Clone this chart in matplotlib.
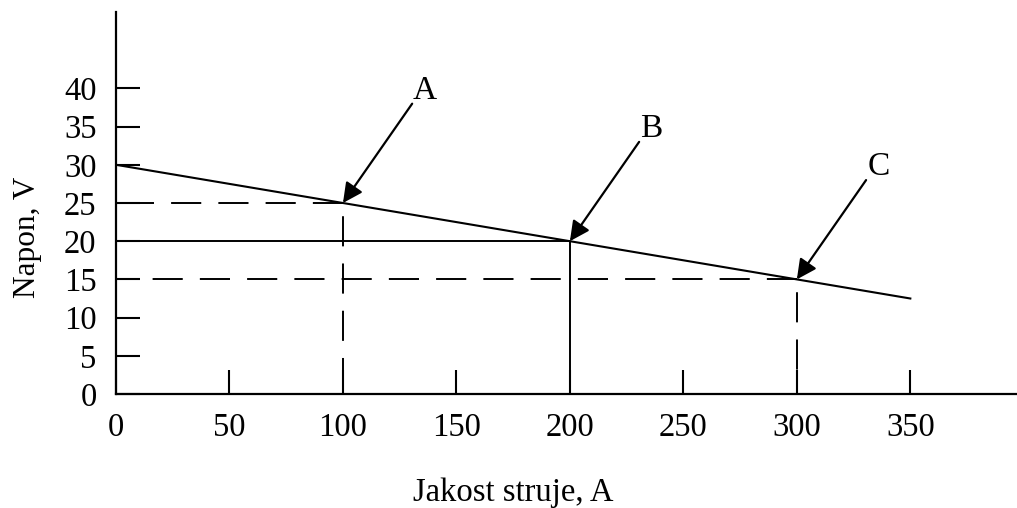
import matplotlib
matplotlib.use("Agg")
import matplotlib.pyplot as plt
import numpy as np

plt.rcParams['font.family'] = ['Liberation Serif', 'DejaVu Serif']

# characteristic line of the welding source
line_x = [0, 350]
line_y = [30, 12.5]

# working points A, B, C
pt_names = ['A', 'B', 'C']
pt_x = [100, 200, 300]
pt_y = [25, 20, 15]
pt_dashed = [True, False, True]

x_ticks = [0, 50, 100, 150, 200, 250, 300, 350]
y_ticks = [0, 5, 10, 15, 20, 25, 30, 35, 40]

fig = plt.figure(figsize=(10.17, 5.08), dpi=100)
ax = fig.add_axes([116 / 1017, 114 / 508, 901 / 1017, 382 / 508])

ax.plot(line_x, line_y, color='k', lw=1.5)

lw = 1.4
for name, x, y, dashed in zip(pt_names, pt_x, pt_y, pt_dashed):
    if dashed:
        ax.plot([x, 0], [y, y], color='k', lw=lw, ls=(0, (15.5, 8.8)))
        ax.plot([x, x], [y, 0], color='k', lw=lw, ls=(17.5, (15.5, 8.8)))
    else:
        ax.plot([0, x, x], [y, y, 0], color='k', lw=lw)
    # arrow from label toward the working point
    ax.annotate('', xy=(x, y), xytext=(x + 30.5, y + 13),
                arrowprops=dict(arrowstyle='-|>', color='k', lw=1.6,
                                mutation_scale=30, shrinkA=0, shrinkB=0))
    ax.text(x + 36, y + 14.7, name, ha='center', va='center', fontsize=24)

ax.set_xlim(0, 397)
ax.set_ylim(0, 50)
ax.set_xticks(x_ticks)
ax.set_yticks(y_ticks)
ax.tick_params(axis='x', direction='in', length=17, width=1.5,
               labelsize=23.5, pad=13)
ax.tick_params(axis='y', direction='in', length=17, width=1.5,
               labelsize=23.5, pad=14)

for side in ['top', 'right']:
    ax.spines[side].set_visible(False)
for side in ['left', 'bottom']:
    ax.spines[side].set_linewidth(1.6)

ax.set_xlabel('Jakost struje, A', fontsize=23.5, labelpad=25.5)
ax.xaxis.label.set_x(175 / 397)
ax.set_ylabel('Napon, V', fontsize=22.5, labelpad=16)
ax.yaxis.label.set_y(0.41)

fig.savefig('out.png', dpi=100)
